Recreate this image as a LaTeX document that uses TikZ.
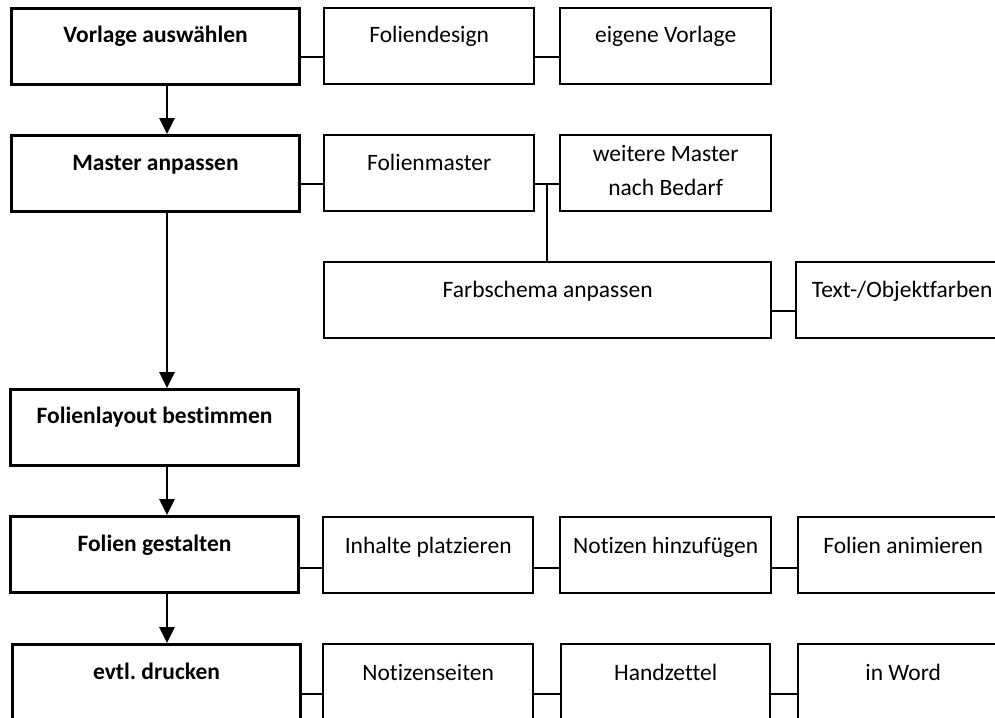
\documentclass[tikz,border=0pt]{standalone}
\usepackage{fontspec}
\setmainfont[Ligatures={NoCommon}]{Carlito}
\usetikzlibrary{arrows.meta}
\frenchspacing
\begin{document}
\begin{tikzpicture}[x=1pt,y=-1pt,
  mainbox/.style={draw, line width=3pt, anchor=north west, inner sep=0pt, minimum width=288pt, minimum height=76pt},
  subbox/.style={draw, line width=2.4pt, anchor=north west, inner sep=0pt, minimum width=210pt, minimum height=76pt},
  lbl/.style={anchor=base, inner sep=0pt, align=center, font=\fontsize{23.5}{34}\selectfont},
  blbl/.style={anchor=base, inner sep=0pt, align=center, font=\fontsize{23.5}{34}\selectfont\bfseries},
  conn/.style={line width=2.4pt},
  arr/.style={line width=2.8pt, -{Triangle[width=15pt,length=16pt]}}]
\useasboundingbox (0,0) rectangle (995,717);
\clip (0,0) rectangle (995,717);
% main column
\node[mainbox] (m1) at (10,7) {};
\node[mainbox] (m2) at (10,134) {};
\node[mainbox] (m3) at (9,388) {};
\node[mainbox] (m4) at (9,515) {};
\node[mainbox, minimum height=80pt] (m5) at (11,643) {};
\node[blbl] (tm1) at ([yshift=-36pt]m1.north) {Vorlage auswählen};
\node[blbl] (tm2) at ([yshift=-36pt]m2.north) {Master anpassen};
\node[blbl] (tm3) at ([yshift=-35pt]m3.north) {Folienlayout bestimmen};
\node[blbl] (tm4) at ([yshift=-36pt]m4.north) {Folien gestalten};
\node[blbl] (tm5) at ([yshift=-36pt]m5.north) {evtl.\ drucken};
% row 1
\node[subbox] (s11) at (323,7) {};
\node[subbox, minimum width=211pt] (s12) at (559,7) {};
\node[lbl] (ts11) at ([yshift=-36pt]s11.north) {Foliendesign};
\node[lbl] (ts12) at ([yshift=-36pt]s12.north) {eigene Vorlage};
% row 2
\node[subbox] (s21) at (323,134) {};
\node[subbox, minimum width=211pt] (s22) at (559,134) {};
\node[lbl] (ts21) at ([yshift=-36pt]s21.north) {Folienmaster};
\node[lbl, anchor=north] (ts22) at ([yshift=-11pt]s22.north) {weitere Master\\nach Bedarf};
% row 3
\node[subbox, minimum width=447pt] (f1) at (323,261) {};
\node[subbox, minimum width=212pt] (f2) at (795,261) {};
\node[lbl] (tf1) at ([yshift=-36pt]f1.north) {Farbschema anpassen};
\node[lbl] (tf2) at ([yshift=-36pt]f2.north) {Text-/Objektfarben};
% row 4
\node[subbox] (s41) at (322,516) {};
\node[subbox, minimum width=211pt] (s42) at (559,516) {};
\node[subbox] (s43) at (797,516) {};
\node[lbl] (ts41) at ([yshift=-37pt]s41.north) {Inhalte platzieren};
\node[lbl] (ts42) at ([yshift=-37pt]s42.north) {Notizen hinzufügen};
\node[lbl] (ts43) at ([yshift=-37pt]s43.north) {Folien animieren};
% row 5
\node[subbox, minimum height=80pt] (s51) at (322,643) {};
\node[subbox, minimum height=80pt, minimum width=209pt] (s52) at (560,643) {};
\node[subbox, minimum height=80pt] (s53) at (797,643) {};
\node[lbl] (ts51) at ([yshift=-37pt]s51.north) {Notizenseiten};
\node[lbl] (ts52) at ([yshift=-37pt]s52.north) {Handzettel};
\node[lbl] (ts53) at ([yshift=-37pt]s53.north) {in Word};
% arrows
\coordinate (ax) at (167,0);
\draw[arr] (m1.south -| ax) -- (m2.north -| ax);
\draw[arr] (m2.south -| ax) -- (m3.north -| ax);
\draw[arr] (m3.south -| ax) -- (m4.north -| ax);
\draw[arr] (m4.south -| ax) -- (m5.north -| ax);
% connectors
\coordinate (r1) at (0,57);
\coordinate (r2) at (0,184);
\coordinate (r3) at (0,311);
\coordinate (r4) at (0,568);
\coordinate (r5) at (0,694);
\draw[conn] (r1 -| m1.east) -- (r1 -| s11.west);
\draw[conn] (r1 -| s11.east) -- (r1 -| s12.west);
\draw[conn] (r2 -| m2.east) -- (r2 -| s21.west);
\draw[conn] (r2 -| s21.east) -- (r2 -| s22.west);
\coordinate (br) at (547,184);
\draw[conn] (br) -- (br |- f1.north);
\draw[conn] (r3 -| f1.east) -- (r3 -| f2.west);
\draw[conn] (r4 -| m4.east) -- (r4 -| s41.west);
\draw[conn] (r4 -| s41.east) -- (r4 -| s42.west);
\draw[conn] (r4 -| s42.east) -- (r4 -| s43.west);
\draw[conn] (r5 -| m5.east) -- (r5 -| s51.west);
\draw[conn] (r5 -| s51.east) -- (r5 -| s52.west);
\draw[conn] (r5 -| s52.east) -- (r5 -| s53.west);
\end{tikzpicture}
\end{document}
